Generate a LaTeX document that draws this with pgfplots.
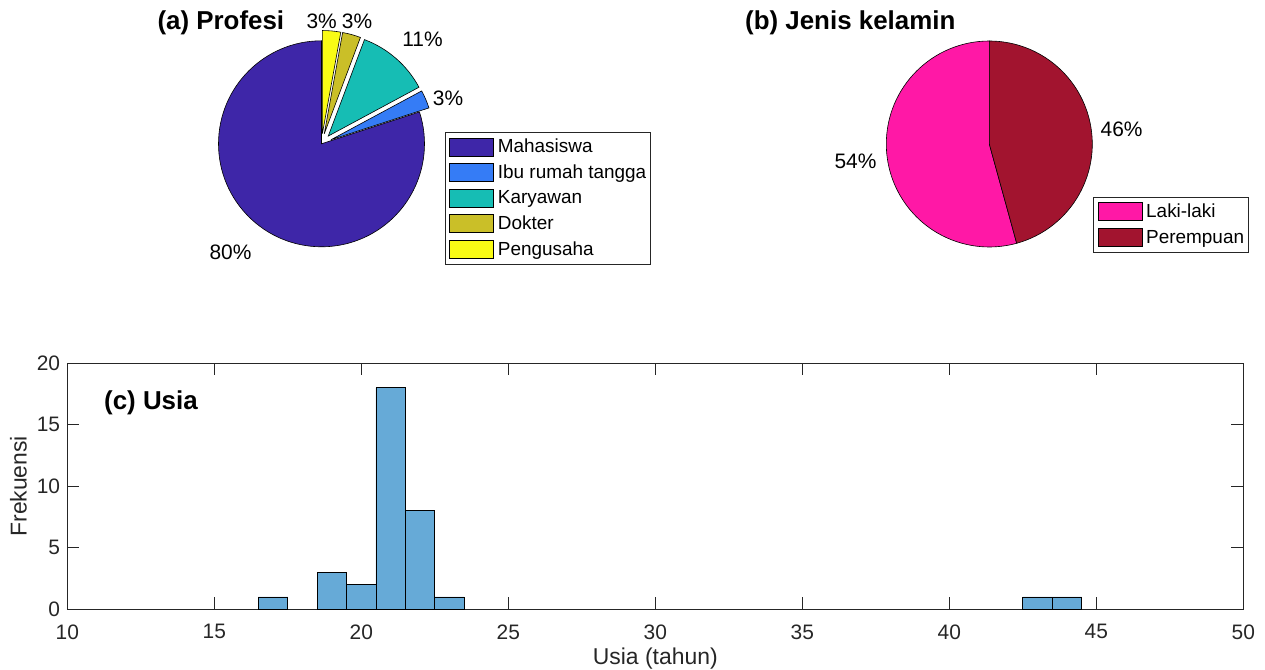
\documentclass[border=0pt]{standalone}
\usepackage{fontspec}
\setmainfont{Liberation Sans}
\usepackage{pgfplots}
\usepackage{pgfplotstable}
\pgfplotsset{compat=1.18}

% warna
\definecolor{cMahasiswa}{RGB}{62,38,168}
\definecolor{cIbu}{RGB}{53,124,246}
\definecolor{cKaryawan}{RGB}{22,189,180}
\definecolor{cDokter}{RGB}{202,191,40}
\definecolor{cPengusaha}{RGB}{249,251,21}
\definecolor{cLaki}{RGB}{255,24,166}
\definecolor{cPerempuan}{RGB}{162,20,47}
\definecolor{barblue}{RGB}{102,170,215}
\definecolor{axisgray}{RGB}{38,38,38}

% jumlah responden per profesi
\def\nMahasiswa{28}
\def\nIbu{1}
\def\nKaryawan{4}
\def\nDokter{1}
\def\nPengusaha{1}
% jumlah responden per jenis kelamin
\def\nLaki{19}
\def\nPerempuan{16}

% histogram usia: pusat kelas (lebar 1 tahun) dan frekuensi
\pgfplotstableread{
usia frekuensi
17 1
19 3
20 2
21 18
22 8
23 1
43 1
44 1
}\tabelusia

% sudut kumulatif irisan (mulai dari atas, berlawanan arah jarum jam)
\pgfmathsetmacro\nProfesi{\nMahasiswa+\nIbu+\nKaryawan+\nDokter+\nPengusaha}
\pgfmathsetmacro\aA{90}
\pgfmathsetmacro\aB{\aA+360*\nMahasiswa/\nProfesi}
\pgfmathsetmacro\aC{\aB+360*\nIbu/\nProfesi}
\pgfmathsetmacro\aD{\aC+360*\nKaryawan/\nProfesi}
\pgfmathsetmacro\aE{\aD+360*\nDokter/\nProfesi}
\pgfmathsetmacro\aF{\aE+360*\nPengusaha/\nProfesi}
\pgfmathsetmacro\nJK{\nLaki+\nPerempuan}
\pgfmathsetmacro\bA{90}
\pgfmathsetmacro\bB{\bA+360*\nLaki/\nJK}
\pgfmathsetmacro\bC{\bB+360*\nPerempuan/\nJK}

\def\pieR{103bp}
% irisan: sudut awal, sudut akhir, warna, jarak ledakan
\newcommand\pieslice[4]{%
  \fill[#3, draw=black, line width=0.6bp, shift={({(#1+#2)/2}:#4)}]
    (axis cs:0,0) -- (axis cs:{cos(#1)},{sin(#1)})
    arc[start angle=#1, end angle=#2, radius=\pieR] -- cycle;}

\newcommand\fTick{\fontsize{21}{21}\selectfont}
\newcommand\fLabel{\fontsize{23}{23}\selectfont}
\newcommand\fTitle{\bfseries\fontsize{26}{26}\selectfont}
\newcommand\fPct{\fontsize{21}{21}\selectfont}

\pgfplotsset{
  pie axis/.style={
    hide axis, x=103bp, y=103bp,
    xmin=-1, xmax=1, ymin=-1, ymax=1,
    clip=false, anchor=center,
    legend cell align=left,
    legend image code/.code={\draw[##1, line width=0.6bp] (0bp,-9bp) rectangle (44bp,9bp);},
    legend style={draw=axisgray, line width=0.6bp, fill=white,
      font=\fontsize{19}{19}\selectfont,
      inner xsep=4bp, inner ysep=5.5bp, row sep=7bp, column sep=4bp,
      anchor=north west, nodes={inner sep=0pt, anchor=west}},
  },
}

\begin{document}
\begin{tikzpicture}
\path[use as bounding box] (0,0) rectangle (1265bp,670bp);

% (a) Profesi
\begin{axis}[pie axis, at={(321.5bp,526.2bp)},
  legend style={at={(1.0995,0.5587)}}]
  \pieslice{\aA}{\aB}{cMahasiswa}{0bp}
  \pieslice{\aB}{\aC}{cIbu}{10.3bp}
  \pieslice{\aC}{\aD}{cKaryawan}{10.3bp}
  \pieslice{\aD}{\aE}{cDokter}{10.3bp}
  \pieslice{\aE}{\aF}{cPengusaha}{10.3bp}
  \addlegendimage{fill=cMahasiswa}\addlegendentry{Mahasiswa}
  \addlegendimage{fill=cIbu}\addlegendentry{Ibu rumah tangga}
  \addlegendimage{fill=cKaryawan}\addlegendentry{Karyawan}
  \addlegendimage{fill=cDokter}\addlegendentry{Dokter}
  \addlegendimage{fill=cPengusaha}\addlegendentry{Pengusaha}
  \begin{scope}[every node/.style={inner sep=0pt, font=\fPct}]
    \node at (axis cs:0.002,1.185) {3\%};
    \node at (axis cs:0.345,1.185) {3\%};
    \node at (axis cs:0.981,1.011) {11\%};
    \node at (axis cs:1.228,0.437) {3\%};
    \node at (axis cs:-0.883,-1.052) {80\%};
  \end{scope}
  \node[anchor=west, inner sep=0pt, font=\fTitle] at (axis cs:-1.594,1.178) {(a) Profesi};
\end{axis}

% (b) Jenis kelamin
\begin{axis}[pie axis, at={(989.3bp,526bp)},
  legend style={at={(1.0049,0.2442)}}]
  \pieslice{\bA}{\bB}{cLaki}{0bp}
  \pieslice{\bB}{\bC}{cPerempuan}{0bp}
  \addlegendimage{fill=cLaki}\addlegendentry{Laki-laki}
  \addlegendimage{fill=cPerempuan}\addlegendentry{Perempuan}
  \begin{scope}[every node/.style={inner sep=0pt, font=\fPct}]
    \node at (axis cs:-1.299,-0.165) {54\%};
    \node at (axis cs:1.285,0.143) {46\%};
  \end{scope}
  \node[anchor=west, inner sep=0pt, font=\fTitle] at (axis cs:-2.372,1.180) {(b) Jenis kelamin};
\end{axis}

% (c) Usia
\begin{axis}[
  at={(67.3bp,60.7bp)}, anchor=south west,
  width=1176bp, height=246bp, scale only axis,
  xmin=10, xmax=50, ymin=0, ymax=20,
  xtick={10,15,...,50}, ytick={0,5,...,20},
  tick align=inside, major tick length=12bp,
  axis line style={axisgray, line width=0.9bp},
  tick style={axisgray, line width=0.9bp},
  /pgf/number format/assume math mode=true,
  tick label style={font=\fTick, text=axisgray},
  xticklabel style={inner sep=0pt, anchor=north, yshift=-15bp},
  yticklabel style={inner sep=0pt, anchor=east, xshift=-7bp},
  xlabel={Usia (tahun)}, ylabel={Frekuensi},
  label style={font=\fLabel, text=axisgray, inner sep=0pt},
  xlabel style={at={(axis description cs:0.5,-0.2264)}, anchor=base},
  ylabel style={at={(axis description cs:-0.0345,0.5)}, anchor=base},
  clip=false,
]
  \addplot[ybar, bar width=1, fill=barblue, draw=black, line width=0.8bp]
    table[x=usia, y=frekuensi] {\tabelusia};
  \node[anchor=west, inner sep=0pt, font=\fTitle] at (axis description cs:0.0312,0.8386) {(c) Usia};
\end{axis}
\end{tikzpicture}
\end{document}
